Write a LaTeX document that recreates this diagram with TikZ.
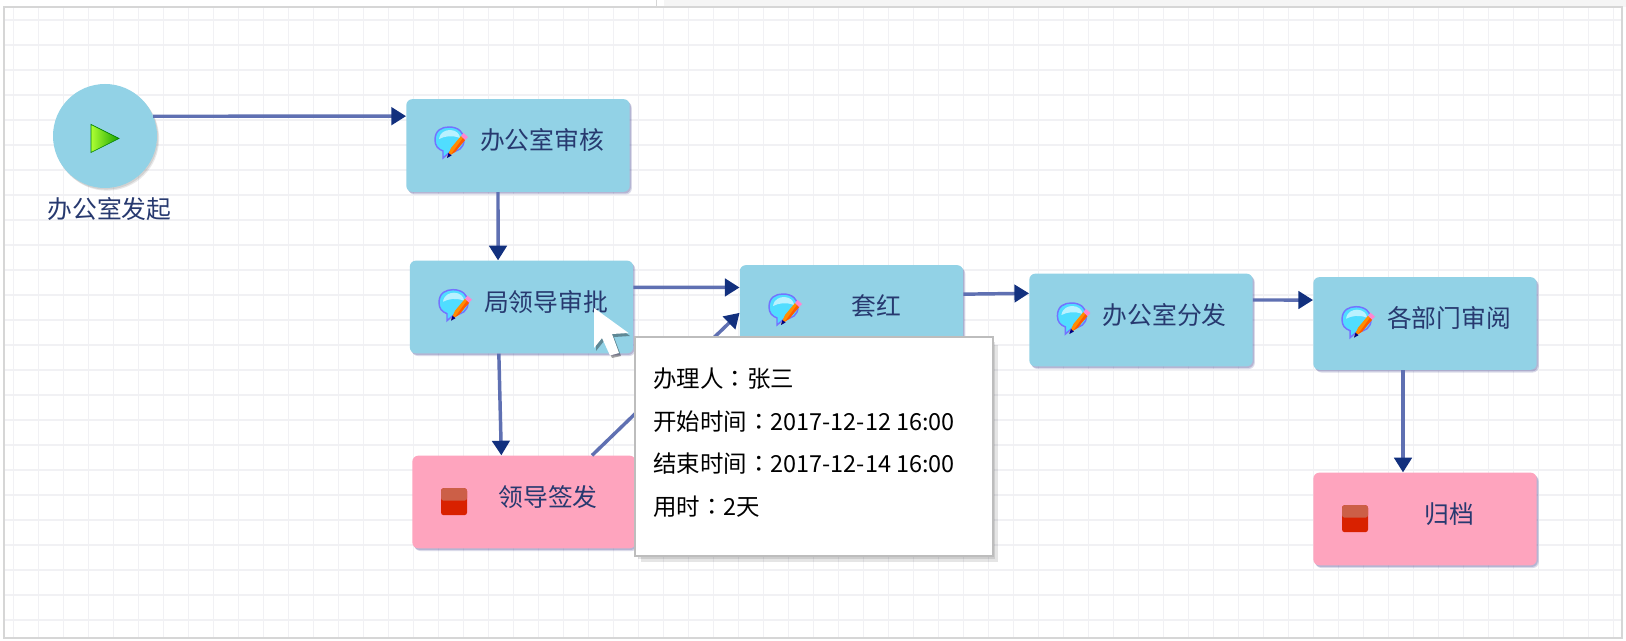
\documentclass[tikz,border=0pt]{standalone}
\usepackage{fontspec}
\setmainfont{Noto Sans CJK SC}
\newfontfamily\cjktc{Noto Sans CJK TC}
\usetikzlibrary{arrows.meta,calc}
\definecolor{canvasline}{HTML}{D6D6D6}
\definecolor{gridline}{HTML}{F1F1F4}
\definecolor{taskblue}{HTML}{92D2E6}
\definecolor{taskpink}{HTML}{FEA4BE}
\definecolor{flowline}{HTML}{5F70B2}
\definecolor{flowtip}{HTML}{12307E}
\definecolor{labelink}{HTML}{27396F}
\definecolor{tipborder}{HTML}{BDBDBD}
\tikzset{
  softshadow/.style={preaction={fill=#1,opacity=.22,transform canvas={xshift=.9pt,yshift=-1.2pt}},
                     preaction={fill=#1,opacity=.18,transform canvas={xshift=1.6pt,yshift=-2pt}}},
  taskbox/.style={rectangle,rounded corners=4.5pt,minimum width=167.5pt,minimum height=69.5pt,inner sep=0pt,softshadow=black!45!blue!60!gray},
  blue task/.style={taskbox,fill=taskblue},
  pink task/.style={taskbox,fill=taskpink},
  startnode/.style={circle,fill=taskblue,minimum size=78pt,inner sep=0pt,softshadow=gray},
  tasklabel/.style={inner sep=0pt,text=labelink,font=\fontsize{18.6pt}{22pt}\selectfont},
  flow/.style={draw=flowline,line width=2.6pt,-{Triangle[length=11pt,width=13pt,color=flowtip]}},
  tiptext/.style={inner sep=0pt,anchor=west,text=black,font=\fontsize{17.6pt}{21pt}\selectfont},
  editicon/.pic={
    \fill[white!70!blue!45!cyan,draw=blue!55!white,line width=1.1pt]
      (-15,-3) .. controls (-15,-13) and (-8,-16) .. (-1,-16)
      .. controls (8,-16) and (14,-11) .. (14,-3)
      .. controls (14,5) and (8,9) .. (0,9)
      -- (-7,15) -- (-7,8) .. controls (-12,6) and (-15,3) .. (-15,-3) -- cycle;
    \fill[white,opacity=.6] (-11,-4) .. controls (-10,-11) and (-4,-13) .. (0,-13)
      .. controls (6,-13) and (10,-9) .. (10,-5) .. controls (2,-8) and (-5,-7) .. (-11,-4) -- cycle;
    \fill[orange!90!yellow] (-3,14) -- (1,5) -- (11,-7) -- (15,-3) -- (5,9) -- cycle;
    \fill[orange!70!red] (1,11.5) -- (13,-5) -- (15,-3) -- (5,9) -- (-3,14) -- cycle;
    \fill[pink!70!magenta] (11,-7) -- (13.5,-10) -- (18,-6) -- (15,-3) -- cycle;
    \fill[blue!50!black] (-3,15) -- (-1.5,10) -- (1.5,12.5) -- cycle;
  },
  stopicon/.pic={
    \fill[rounded corners=2pt,red!70!orange!85!black] (-13,-13.5) rectangle (13,13.5);
    \fill[rounded corners=2pt,red!65!orange!65!white!80!black] (-13,-13.5) rectangle (13,-1);
  },
  playicon/.pic={
    \shade[left color=yellow!60!green!80!white,right color=green!60!black!90!yellow,draw=green!50!black,line width=.5pt]
      (-14,-14) -- (14,0) -- (-14,14) -- cycle;
  },
}
\begin{document}
\begin{tikzpicture}[x=.75pt,y=-.75pt]
\useasboundingbox (0,0) rectangle (1626,641);
\fill[white] (0,0) rectangle (1626,641);
% surroundings of the canvas
\fill[gray!8] (664,0) rectangle (1626,7);
\draw[canvasline,line width=.7pt] (656,0) -- (656,7);
% canvas and grid
\fill[white] (4,7) rectangle (1622,638);
\begin{scope}
  \clip (4,7) rectangle (1622,638);
  \foreach \gx in {0,...,64} \draw[gridline,line width=1pt] ({13.5+25*\gx},7) -- ({13.5+25*\gx},638);
  \foreach \gy in {0,...,25} \draw[gridline,line width=1pt] (4,{20+25*\gy}) -- (1622,{20+25*\gy});
\end{scope}
\draw[canvasline,line width=1.5pt] (4,7) rectangle (1622,638);

% tasks
\node[startnode] (start) at (105,136) {};
\node[blue task] (audit)  at (518,145.5) {};
\node[blue task] (leader) at (521.5,307) {};
\node[blue task] (red)    at (851.5,311.5) {};
\node[pink task] (sign)   at (524,502) {};
\node[blue task] (send)   at (1141,320) {};
\node[blue task] (review) at (1425,323.5) {};
\node[pink task] (file)   at (1425,519) {};

% connectors
\draw[flow] ([yshift=14.8pt]start.east -| 153,0) -- ([yshift=22pt]audit.west);
\draw[flow] ([xshift=-15pt]audit.south) -- ([xshift=-17.6pt]leader.north);
\draw[flow] ([yshift=14.8pt]leader.east) -- ([yshift=18pt]red.west);
\draw[flow] ([xshift=-17pt]leader.south) -- ([xshift=-17pt]sign.north);
\draw[flow] ([xshift=51pt]sign.north) -- ([yshift=-1pt]red.west);
\draw[flow] ([yshift=13pt]red.east) -- ([yshift=20pt]send.west);
\draw[flow] ([yshift=15pt]send.east) -- ([yshift=17.6pt]review.west);
\draw[flow] ([xshift=-16.5pt]review.south) -- ([xshift=-16.5pt]file.north);

% icons
\pic at (105,138.5) {playicon};
\pic at (450,143) {editicon};
\pic at (454,305.7) {editicon};
\pic at (784,310) {editicon};
\pic at (1072.4,319) {editicon};
\pic at (1357,322.7) {editicon};
\pic at (454,501.7) {stopicon};
\pic at (1355,518.7) {stopicon};

% labels
\node[tasklabel] (startlabel) at (109.4,209) {办公室发起};
\node[tasklabel] (auditlabel) at (542,140) {办公室审核};
\node[tasklabel] (leaderlabel) at (546,301.7) {局领导审批};
\node[tasklabel] (redlabel) at (876.5,306) {套红};
\node[tasklabel] (signlabel) at (548,496.7) {领导签发};
\node[tasklabel] (sendlabel) at (1164.6,315) {办公室分发};
\node[tasklabel] (reviewlabel) at (1449,318) {各部门审阅};
\node[tasklabel] (filelabel) at (1449.6,514) {归档};

% tooltip
\fill[black,opacity=.10] (641,345) rectangle (998,562);
\fill[black,opacity=.10] (638,342) rectangle (995,559);
\node[draw=tipborder,line width=1.5pt,fill=white,minimum width=268.5pt,minimum height=164.5pt,inner sep=0pt] (tooltip) at (813.5,446.5) {};
\node[tiptext] (l1) at (653,379) {办理人{\cjktc ：}张三};
\node[tiptext] (l2) at (653,421.7) {开始时间{\cjktc ：}2017-12-12 16:00};
\node[tiptext] (l3) at (653,464) {结束时间{\cjktc ：}2017-12-14 16:00};
\node[tiptext] (l4) at (653,507) {用时{\cjktc ：}2天};

% mouse pointer
\fill[black,opacity=.35] (596,311) -- (630,336) -- (614,337) -- (621,356) -- (612,358) -- (604,341) -- (596,351) -- cycle;
\fill[white] (594,308) -- (628.5,333) -- (612,334) -- (619,353) -- (610,355.5) -- (602,338) -- (594,348) -- cycle;
\end{tikzpicture}
\end{document}
